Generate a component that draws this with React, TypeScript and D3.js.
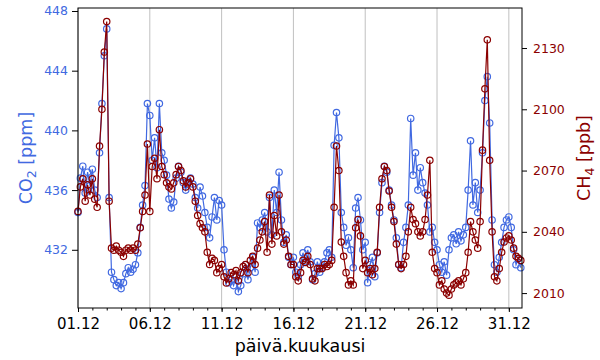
import React, { useRef, useEffect } from "react"
import * as d3 from "d3"

// 4-hourly readings, starting 01.12 00:00
const startDate = new Date(2022, 11, 1, 0)
const stepHours = 4

// CO2 [ppm], 6 readings per day
const co2Values = [
  434.5, 436.8, 437.6, 435.8, 437.2, 436.3, // 01.12
  437.4, 436.0, 435.5, 438.5, 441.8, 445.0, // 02.12
  446.8, 435.5, 430.5, 430.0, 429.6, 429.8, // 03.12
  429.4, 429.8, 430.4, 430.8, 430.5, 430.7, // 04.12
  431.0, 431.8, 433.5, 435.0, 436.3, 441.8, // 05.12
  441.0, 438.0, 439.5, 437.5, 441.8, 438.5, // 06.12
  438.0, 437.0, 435.4, 434.8, 435.2, 436.8, // 07.12
  437.6, 437.2, 436.5, 436.0, 436.6, 436.8, // 08.12
  436.4, 435.5, 434.8, 436.2, 435.6, 434.5, // 09.12
  433.5, 432.8, 434.2, 435.5, 434.0, 435.3, // 10.12
  435.0, 432.0, 430.5, 429.8, 430.0, 429.6, // 11.12
  430.2, 429.2, 429.6, 430.4, 431.0, 430.0, // 12.12
  430.8, 431.5, 430.5, 433.8, 433.5, 434.0, // 13.12
  434.5, 433.2, 435.5, 433.0, 436.0, 434.5, // 14.12
  437.2, 434.0, 432.5, 433.0, 431.5, 431.0, // 15.12
  431.5, 430.5, 430.2, 431.0, 431.8, 431.2, // 16.12
  432.0, 431.2, 430.0, 430.4, 431.2, 430.5, // 17.12
  430.8, 431.2, 431.8, 432.0, 431.5, 439.0, // 18.12
  441.2, 439.5, 434.5, 433.5, 432.3, 432.8, // 19.12
  432.0, 430.8, 434.8, 435.5, 434.0, 432.0, // 20.12
  432.5, 429.8, 431.0, 431.5, 430.2, 431.8, // 21.12
  434.5, 436.5, 437.6, 437.2, 436.0, 435.0, // 22.12
  434.0, 432.8, 431.0, 430.8, 432.5, 433.5, // 23.12
  435.0, 440.8, 437.0, 438.5, 436.0, 437.5, // 24.12
  436.5, 435.8, 435.0, 433.2, 433.5, 432.5, // 25.12
  432.0, 431.0, 430.5, 431.2, 430.3, 432.0, // 26.12
  432.8, 433.0, 432.4, 433.2, 432.6, 433.0, // 27.12
  433.5, 436.0, 439.3, 435.0, 436.5, 434.5, // 28.12
  436.0, 438.5, 442.0, 443.6, 440.5, 434.0, // 29.12
  431.0, 430.5, 431.5, 432.5, 433.5, 434.0, // 30.12
  434.2, 433.5, 432.0, 431.0, 431.4, 430.8, // 31.12
]

// CH4 [ppb], same timestamps
const ch4Values = [
  2050, 2062, 2066, 2055, 2063, 2058, // 01.12
  2066, 2056, 2052, 2082, 2100, 2128, // 02.12
  2143, 2055, 2032, 2031, 2033, 2031, // 03.12
  2030, 2028, 2031, 2032, 2031, 2032, // 04.12
  2031, 2034, 2042, 2050, 2058, 2083, // 05.12
  2050, 2072, 2076, 2066, 2090, 2072, // 06.12
  2068, 2064, 2062, 2061, 2064, 2068, // 07.12
  2072, 2070, 2065, 2062, 2064, 2066, // 08.12
  2062, 2055, 2048, 2044, 2042, 2040, // 09.12
  2030, 2024, 2027, 2026, 2020, 2022, // 10.12
  2024, 2018, 2015, 2017, 2020, 2019, // 11.12
  2021, 2016, 2020, 2023, 2024, 2020, // 12.12
  2026, 2028, 2024, 2032, 2036, 2040, // 13.12
  2045, 2030, 2058, 2034, 2048, 2038, // 14.12
  2058, 2040, 2034, 2036, 2028, 2024, // 15.12
  2024, 2018, 2016, 2020, 2026, 2025, // 16.12
  2028, 2024, 2017, 2016, 2022, 2022, // 17.12
  2022, 2024, 2023, 2024, 2026, 2052, // 18.12
  2082, 2070, 2035, 2028, 2020, 2014, // 19.12
  2016, 2014, 2042, 2046, 2038, 2022, // 20.12
  2026, 2020, 2022, 2019, 2022, 2030, // 21.12
  2052, 2066, 2072, 2070, 2060, 2052, // 22.12
  2045, 2034, 2024, 2022, 2024, 2028, // 23.12
  2040, 2052, 2046, 2044, 2040, 2038, // 24.12
  2040, 2046, 2058, 2075, 2030, 2022, // 25.12
  2020, 2014, 2016, 2012, 2010, 2009, // 26.12
  2012, 2014, 2015, 2016, 2014, 2017, // 27.12
  2020, 2030, 2045, 2040, 2036, 2032, // 28.12
  2045, 2080, 2110, 2134, 2075, 2040, // 29.12
  2018, 2016, 2022, 2030, 2035, 2037, // 30.12
  2038, 2036, 2032, 2028, 2027, 2026, // 31.12
]

const co2Ticks = [432, 436, 440, 444, 448]
const ch4Ticks = [2010, 2040, 2070, 2100, 2130]
const dayTicks = [1, 6, 11, 16, 21, 26, 31]

const W = 600
const H = 360
const margin = { top: 8, right: 78, bottom: 52, left: 78 }
const blue = "royalblue"
const red = "darkred"
const font = "DejaVu Sans, sans-serif"

const App = () => {
  const ref = useRef(null)

  useEffect(() => {
    const svg = d3.select(ref.current)
    svg.selectAll("*").remove()

    const x = d3.scaleTime()
      .domain([startDate, new Date(2022, 11, 31, 22)])
      .range([margin.left, W - margin.right])
    const yL = d3.scaleLinear().domain([428.1, 448.2]).range([H - margin.bottom, margin.top])
    const yR = d3.scaleLinear().domain([2002.7, 2149.6]).range([H - margin.bottom, margin.top])

    const time = (i) => d3.timeHour.offset(startDate, i * stepHours)
    const co2 = co2Values.map((v, i) => ({ t: time(i), v }))
    const ch4 = ch4Values.map((v, i) => ({ t: time(i), v }))

    const majors = dayTicks.map(d => new Date(2022, 11, d))
    const minors = d3.timeDay.range(startDate, new Date(2022, 11, 31, 23))

    // vertical grid
    svg.append("g")
      .selectAll("line")
      .data(majors)
      .enter()
      .append("line")
        .attr("x1", d => x(d)).attr("x2", d => x(d))
        .attr("y1", margin.top).attr("y2", H - margin.bottom)
        .attr("stroke", "#b0b0b0")
        .attr("stroke-width", 0.8)

    const drawSeries = (data, y, color) => {
      const g = svg.append("g")
      g.append("path")
        .datum(data)
        .attr("fill", "none")
        .attr("stroke", color)
        .attr("stroke-width", 1.2)
        .attr("d", d3.line().x(d => x(d.t)).y(d => y(d.v)))
      g.selectAll("circle")
        .data(data)
        .enter()
        .append("circle")
          .attr("cx", d => x(d.t))
          .attr("cy", d => y(d.v))
          .attr("r", 3.2)
          .attr("fill", "none")
          .attr("stroke", color)
          .attr("stroke-width", 1.2)
    }
    drawSeries(co2, yL, blue)
    drawSeries(ch4, yR, red)

    // frame
    svg.append("rect")
      .attr("x", margin.left).attr("y", margin.top)
      .attr("width", W - margin.left - margin.right)
      .attr("height", H - margin.top - margin.bottom)
      .attr("fill", "none").attr("stroke", "black").attr("stroke-width", 1)

    // x axis
    const xAxis = svg.append("g")
      .attr("transform", `translate(0,${H - margin.bottom})`)
      .call(d3.axisBottom(x).tickValues(majors).tickFormat(d3.timeFormat("%d.%m")).tickSize(4).tickPadding(6))
    xAxis.select(".domain").remove()
    xAxis.selectAll("text").attr("font-size", 15).attr("font-family", font).attr("fill", "black")
    svg.append("g")
      .attr("transform", `translate(0,${H - margin.bottom})`)
      .call(d3.axisBottom(x).tickValues(minors).tickFormat(() => "").tickSize(2.5))
      .select(".domain").remove()

    // left axis
    const left = svg.append("g")
      .attr("transform", `translate(${margin.left},0)`)
      .call(d3.axisLeft(yL).tickValues(co2Ticks).tickFormat(d3.format("d")).tickSize(6).tickPadding(4))
    left.select(".domain").remove()
    left.selectAll("text").attr("font-size", 12.5).attr("font-family", font).attr("fill", blue)

    // right axis
    const right = svg.append("g")
      .attr("transform", `translate(${W - margin.right},0)`)
      .call(d3.axisRight(yR).tickValues(ch4Ticks).tickFormat(d3.format("d")).tickSize(5).tickPadding(6))
    right.select(".domain").remove()
    right.selectAll("text").attr("font-size", 12.5).attr("font-family", font).attr("fill", red)

    // labels
    svg.append("text")
      .attr("x", (margin.left + W - margin.right) / 2)
      .attr("y", 352)
      .attr("text-anchor", "middle")
      .attr("font-size", 17.5)
      .attr("font-family", font)
      .text("päivä.kuukausi")

    const yLabel = (xPos, color, main, sub, rest) => {
      const t = svg.append("text")
        .attr("transform", `translate(${xPos},${(margin.top + H - margin.bottom) / 2}) rotate(-90)`)
        .attr("text-anchor", "middle")
        .attr("font-size", 17.5)
        .attr("font-family", font)
        .attr("fill", color)
      t.append("tspan").text(main)
      t.append("tspan").attr("font-size", 12.5).attr("dy", 4).text(sub)
      t.append("tspan").attr("dy", -4).text(rest)
    }
    yLabel(32, blue, "CO", "2", " [ppm]")
    yLabel(590, red, "CH", "4", " [ppb]")
  }, [])

  return (
    <svg ref={ref} width={W} height={H} style={{ position: "absolute", left: 0, top: 0, background: "white" }} />
  )
}

export default App
